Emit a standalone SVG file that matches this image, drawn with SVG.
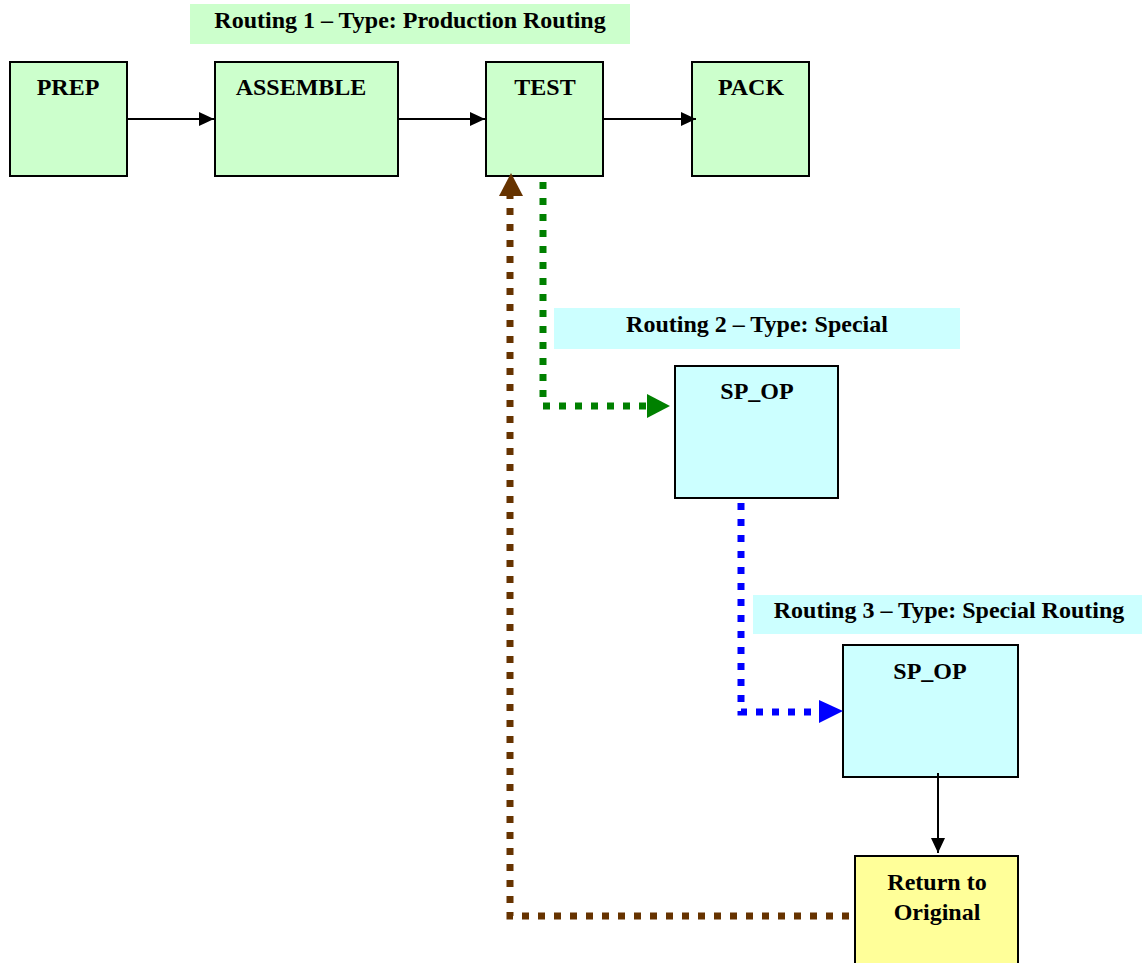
<svg xmlns="http://www.w3.org/2000/svg" width="1142" height="963" viewBox="0 0 1142 963">
<style>
.t{font-family:"Liberation Serif","Times New Roman",serif;font-weight:bold;font-size:24px;fill:#000;text-anchor:middle}
.g{fill:#ccffcc;stroke:#000;stroke-width:2}
.c{fill:#ccffff;stroke:#000;stroke-width:2}
.y{fill:#ffff99;stroke:#000;stroke-width:2}
.solid{stroke:#000;stroke-width:2;fill:none}
.dot{stroke-width:7;fill:none;stroke-dasharray:7 9}
</style>
<defs>
<marker id="ab" viewBox="0 0 15 14" refX="15" refY="7" markerWidth="15" markerHeight="14" markerUnits="userSpaceOnUse" orient="auto"><path d="M0,0 L15,7 L0,14 Z" fill="#000"/></marker>
</defs>
<rect x="190" y="4" width="440" height="40" fill="#ccffcc"/>
<text class="t" x="410" y="28">Routing 1 – Type: Production Routing</text>
<rect x="554" y="308" width="406" height="41" fill="#ccffff"/>
<text class="t" x="757" y="332">Routing 2 – Type: Special</text>
<rect x="753" y="595" width="389" height="39" fill="#ccffff"/>
<text class="t" x="949" y="618">Routing 3 – Type: Special Routing</text>
<g id="prep"><rect class="g" x="10" y="62" width="117" height="114"/><text class="t" x="68" y="95">PREP</text></g>
<g id="assemble"><rect class="g" x="215" y="62" width="183" height="114"/><text class="t" x="301" y="95">ASSEMBLE</text></g>
<g id="test"><rect class="g" x="486" y="62" width="117" height="114"/><text class="t" x="545" y="95">TEST</text></g>
<g id="pack"><rect class="g" x="692" y="62" width="117" height="114"/><text class="t" x="751" y="95">PACK</text></g>
<g id="spop1"><rect class="c" x="675" y="366" width="163" height="132"/><text class="t" x="757" y="399">SP_OP</text></g>
<g id="spop2"><rect class="c" x="843" y="645" width="175" height="132"/><text class="t" x="930" y="679">SP_OP</text></g>
<g id="return"><rect class="y" x="855" y="856" width="163" height="112"/><text class="t" x="937" y="890">Return to</text><text class="t" x="937" y="920">Original</text></g>
<g id="connectors">
<path class="solid" d="M127,119 H214" marker-end="url(#ab)"/>
<path class="solid" d="M398,119 H485" marker-end="url(#ab)"/>
<path class="solid" d="M603,119 H696" marker-end="url(#ab)"/>
<path class="solid" d="M938,773 V853" marker-end="url(#ab)"/>
<path class="dot" stroke="#008000" d="M543,182 V406 H648"/>
<path d="M647,394 L670,406 L647,418 Z" fill="#008000"/>
<path class="dot" stroke="#0000ff" d="M741,503 V712 H820"/>
<path d="M819,700 L843,711 L819,723 Z" fill="#0000ff"/>
<path class="dot" stroke="#663300" d="M849,916 H510 V196"/>
<path d="M499,196 L511,173 L523,196 Z" fill="#663300"/>
</g>
</svg>
